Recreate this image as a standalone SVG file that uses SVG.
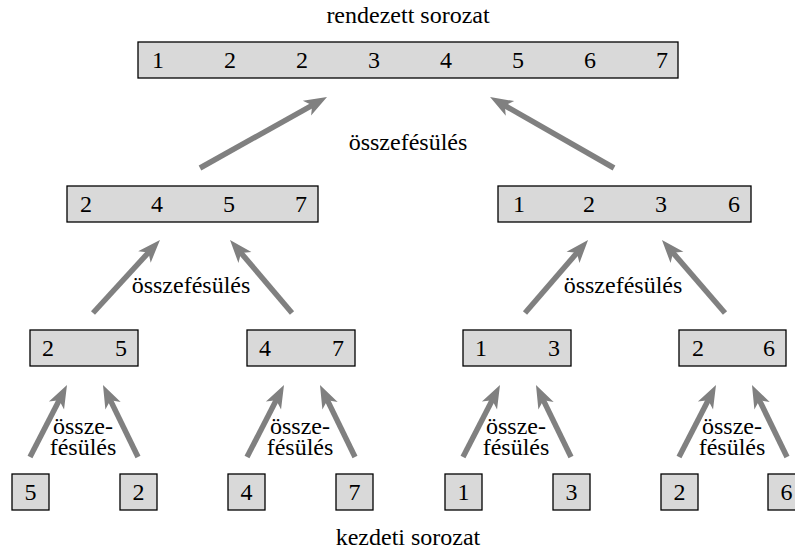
<svg xmlns="http://www.w3.org/2000/svg" width="795" height="551" viewBox="0 0 795 551">
<defs>
<style>
.box{fill:#d9d9d9;stroke:#000;stroke-width:1.3}
text{font-family:'Liberation Serif','Times New Roman',Times,serif;font-size:24px;fill:#000}
.c{text-anchor:middle}
.arr{stroke:#808080;stroke-width:5.5;fill:none;marker-end:url(#head)}
</style>
<marker id="head" markerUnits="userSpaceOnUse" viewBox="-10 -10 26 20" markerWidth="26" markerHeight="20" refX="0" refY="0" orient="auto">
<path d="M14,0 L-9,-8.5 L-3,0 L-9,8.5 Z" fill="#808080"/>
</marker>
</defs>
<rect width="795" height="551" fill="#fff"/>
<text class="c" x="408" y="23">rendezett sorozat</text>
<text class="c" x="408" y="545">kezdeti sorozat</text>

<g id="sorted">
<rect class="box" x="138" y="42" width="540" height="36"/>
<text y="68"><tspan x="152">1</tspan><tspan x="224">2</tspan><tspan x="296">2</tspan><tspan x="368">3</tspan><tspan x="440">4</tspan><tspan x="512">5</tspan><tspan x="584">6</tspan><tspan x="656">7</tspan></text>
</g>

<g id="mid-left">
<rect class="box" x="67" y="186" width="251" height="36"/>
<text y="212"><tspan x="80">2</tspan><tspan x="151">4</tspan><tspan x="223">5</tspan><tspan x="295">7</tspan></text>
</g>
<g id="mid-right">
<rect class="box" x="498" y="186" width="253" height="36"/>
<text y="212"><tspan x="513">1</tspan><tspan x="583">2</tspan><tspan x="655">3</tspan><tspan x="728">6</tspan></text>
</g>

<g id="l3-1"><rect class="box" x="30" y="330" width="108" height="36"/><text y="356"><tspan x="42">2</tspan><tspan x="115">5</tspan></text></g>
<g id="l3-2"><rect class="box" x="247" y="330" width="108" height="36"/><text y="356"><tspan x="259">4</tspan><tspan x="332">7</tspan></text></g>
<g id="l3-3"><rect class="box" x="463" y="330" width="108" height="36"/><text y="356"><tspan x="475">1</tspan><tspan x="548">3</tspan></text></g>
<g id="l3-4"><rect class="box" x="679" y="330" width="107" height="36"/><text y="356"><tspan x="692">2</tspan><tspan x="763">6</tspan></text></g>

<g id="b1"><rect class="box" x="12" y="474" width="37" height="36"/><text class="c" x="30.5" y="500">5</text></g>
<g id="b2"><rect class="box" x="120" y="474" width="37" height="36"/><text class="c" x="138.5" y="500">2</text></g>
<g id="b3"><rect class="box" x="228" y="474" width="37" height="36"/><text class="c" x="246.5" y="500">4</text></g>
<g id="b4"><rect class="box" x="336" y="474" width="37" height="36"/><text class="c" x="354.5" y="500">7</text></g>
<g id="b5"><rect class="box" x="445" y="474" width="37" height="36"/><text class="c" x="463.5" y="500">1</text></g>
<g id="b6"><rect class="box" x="553" y="474" width="37" height="36"/><text class="c" x="571.5" y="500">3</text></g>
<g id="b7"><rect class="box" x="661" y="474" width="37" height="36"/><text class="c" x="679.5" y="500">2</text></g>
<g id="b8"><rect class="box" x="768" y="474" width="37" height="36"/><text class="c" x="786.5" y="500">6</text></g>

<g id="connectors">
<line class="arr" x1="200" y1="168" x2="314.8" y2="103.8"/>
<line class="arr" x1="614" y1="168" x2="502.2" y2="104"/>
<line class="arr" x1="93" y1="313" x2="150.5" y2="250.3"/>
<line class="arr" x1="292" y1="313" x2="239.1" y2="250.7"/>
<line class="arr" x1="525" y1="313" x2="578.9" y2="250.6"/>
<line class="arr" x1="725" y1="313" x2="671.1" y2="250.6"/>
<line class="arr" x1="30" y1="457" x2="60.6" y2="397.5"/>
<line class="arr" x1="138" y1="457" x2="109.1" y2="397.6"/>
<line class="arr" x1="247" y1="457" x2="277.6" y2="397.5"/>
<line class="arr" x1="355" y1="457" x2="326.1" y2="397.6"/>
<line class="arr" x1="463" y1="457" x2="493.6" y2="397.5"/>
<line class="arr" x1="571" y1="457" x2="542.1" y2="397.6"/>
<line class="arr" x1="679" y1="457" x2="709.6" y2="397.5"/>
<line class="arr" x1="787" y1="457" x2="758.1" y2="397.6"/>
</g>

<g id="labels">
<text class="c" x="408" y="150">összefésülés</text>
<text class="c" x="191" y="293">összefésülés</text>
<text class="c" x="623" y="293">összefésülés</text>
<text class="c"><tspan x="83" y="434">össze-</tspan><tspan x="83" y="455">fésülés</tspan></text>
<text class="c"><tspan x="300" y="434">össze-</tspan><tspan x="300" y="455">fésülés</tspan></text>
<text class="c"><tspan x="516" y="434">össze-</tspan><tspan x="516" y="455">fésülés</tspan></text>
<text class="c"><tspan x="732" y="434">össze-</tspan><tspan x="732" y="455">fésülés</tspan></text>
</g>
</svg>
